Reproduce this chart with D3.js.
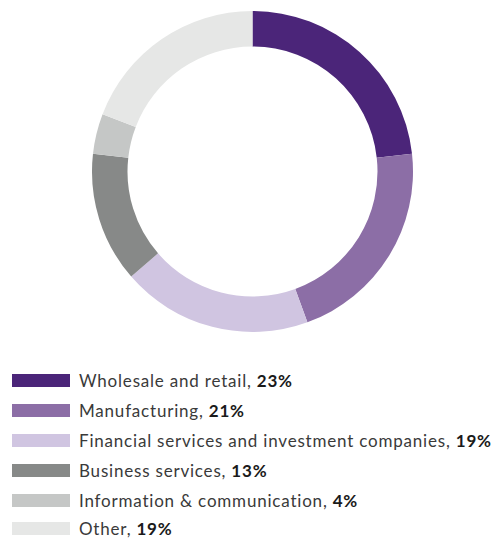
<!DOCTYPE html>
<html>
<head>
<meta charset="utf-8">
<script src="https://cdn.jsdelivr.net/npm/d3@7"></script>
<style>
  html, body { margin: 0; padding: 0; background: #fff; }
  svg { display: block; }
</style>
</head>
<body>
<svg id="chart" width="498" height="538"></svg>
<script>
// Sector shares of the portfolio (%)
const sectors = [
  "Wholesale and retail",
  "Manufacturing",
  "Financial services and investment companies",
  "Business services",
  "Information & communication",
  "Other"
];
const shares = [23, 21, 19, 13, 4, 19];
const colors = ["#4b2579", "#8c6ea6", "#d0c5e1", "#878988", "#c5c7c6", "#e6e7e6"];

const svg = d3.select("#chart");
const cx = 252.5, cy = 171.5, rOuter = 160.5, rInner = 125;

const data = sectors.map((name, i) => ({ name, value: shares[i], color: colors[i] }));

const pie = d3.pie().value(d => d.value).sort(null);
const arc = d3.arc().innerRadius(rInner).outerRadius(rOuter);

svg.append("g")
  .attr("transform", `translate(${cx},${cy})`)
  .selectAll("path")
  .data(pie(data))
  .join("path")
  .attr("d", arc)
  .attr("fill", d => d.data.color);

// Legend
const legend = svg.append("g").attr("transform", "translate(12,374)");
const rows = legend.selectAll("g")
  .data(data)
  .join("g")
  .attr("transform", (d, i) => `translate(0,${i * 30 - (i === data.length - 1 ? 2 : 0)})`);

rows.append("rect")
  .attr("width", 58)
  .attr("height", 13)
  .attr("fill", d => d.color);

const label = rows.append("text")
  .attr("x", 67)
  .attr("y", 13.3)
  .attr("font-family", "Lato, 'Open Sans', sans-serif")
  .attr("font-size", 17)
  .attr("letter-spacing", 0.8)
  .attr("fill", "#3a3a3a");
label.append("tspan").text(d => d.name + ", ");
label.append("tspan")
  .attr("font-weight", "bold")
  .attr("fill", "#1a1a1a")
  .text(d => d.value + "%");
</script>
</body>
</html>
